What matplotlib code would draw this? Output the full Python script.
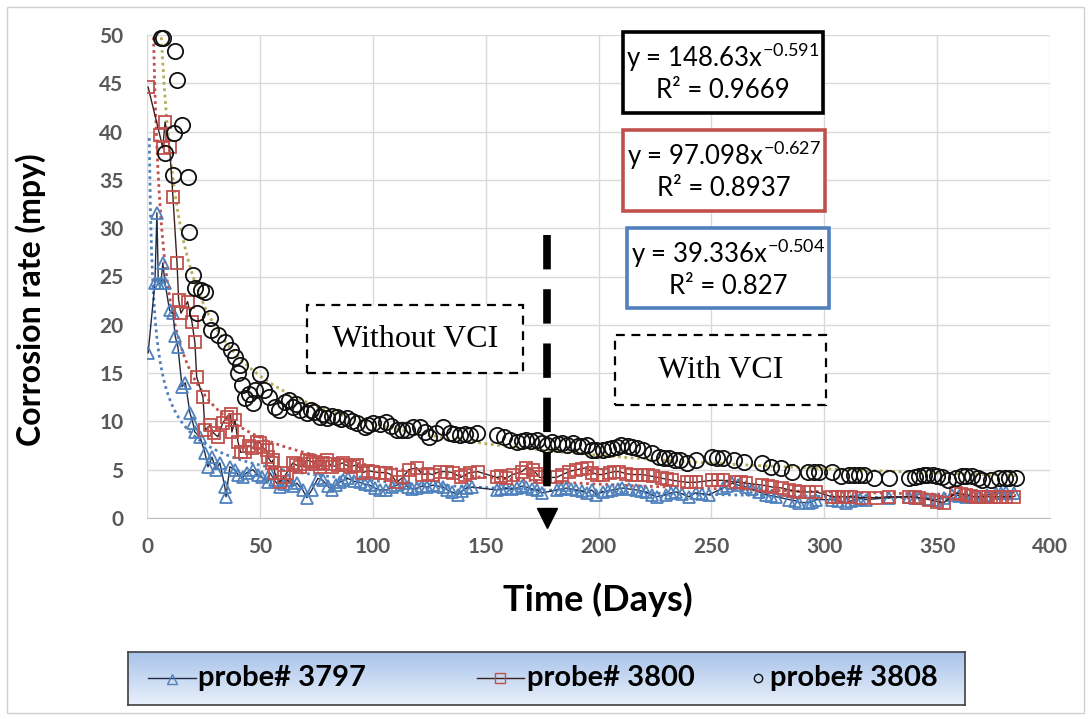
import numpy as np
import matplotlib
matplotlib.use("Agg")
import matplotlib.pyplot as plt
from matplotlib.patches import Rectangle
from matplotlib.lines import Line2D
from matplotlib.colors import LinearSegmentedColormap

plt.rcParams['font.family'] = ['Lato', 'DejaVu Sans']
plt.rcParams['mathtext.fontset'] = 'custom'
plt.rcParams['mathtext.rm'] = 'Lato'
plt.rcParams['mathtext.it'] = 'Lato'

# ---------------- data ----------------
p3797_day = [0.5, 3.5, 4.4, 5.0, 6.2, 7, 8, 10, 11.5, 12.5, 13.7, 15.5, 17, 19, 20.4, 21.2, 23.5, 25.7, 27, 28.8,
             30.5, 32.3, 34.5, 35, 36.7, 39, 40.5, 42.5, 44.2, 47, 49, 51, 53.5, 54.4, 56.5, 58.8, 60.5, 62.4, 64.5,
             66.4, 69, 70.8, 73, 75.7, 77.9, 80, 81.9, 83.5, 85.4, 87, 89, 91.5, 94.2, 96.5, 98.7, 101, 103, 106,
             108.5, 110.6, 114, 115.5, 117.5, 119.5, 122, 124, 126.5, 129, 131, 133, 135, 137.6, 139.5, 141.6, 144,
             155, 157, 159, 161.5, 163.7, 166, 168, 170.5, 172.6, 175, 181.4, 183.5, 185.8, 188, 190, 192.5, 194.7,
             197, 199, 201.8, 204, 206, 208.5, 210.6, 213.5, 216.8, 219, 221, 223.5, 225.7, 230, 232, 234.5, 237,
             240, 243, 246, 249, 255, 257, 259.3, 262, 265.5, 268, 271, 274.3, 276.5, 278.8, 284.5, 287, 289,
             293.4, 294.7, 296.5, 303.5, 306, 309.7, 312, 314, 316, 318.6, 328.8, 337.6, 340, 342, 346, 349.6,
             353, 356.6, 359.5, 362.8, 366, 368.6, 372, 376, 378.5, 380.5, 384]
p3797_val = [17.1, 24.3, 31.6, 24.3, 24.3, 26.4, 24.3, 21.5, 21.2, 18.8, 17.7, 13.6, 14.0, 10.9, 9.8, 8.9, 8.4, 6.7, 5.3, 6.3,
             5.0, 5.7, 3.2, 2.2, 5.3, 5.0, 4.4, 4.2, 4.7, 5.0, 4.4, 4.2, 3.7, 4.7, 3.9, 3.2, 3.5, 3.9, 3.3,
             3.6, 2.9, 2.1, 2.9, 4.1, 3.9, 3.3, 2.9, 3.4, 3.7, 3.9, 4.1, 3.8, 3.7, 3.5, 3.4, 3.1, 2.9, 2.9,
             3.2, 3.4, 3.6, 3.2, 3.0, 3.1, 3.3, 3.2, 3.4, 3.3, 3.2, 2.9, 2.7, 2.4, 2.8, 3.1, 3.2,
             2.9, 3.0, 3.1, 3.0, 3.1, 3.3, 3.2, 3.0, 2.9, 2.6, 2.9, 3.0, 3.1, 3.0, 2.9, 2.8, 2.6,
             2.9, 2.4, 2.7, 2.8, 2.9, 3.0, 3.1, 3.0, 2.9, 2.8, 2.7, 2.4, 2.2, 2.4, 2.6, 2.7, 2.5,
             2.2, 2.6, 2.5, 2.4, 3.1, 3.3, 3.6, 3.4, 3.2, 3.0, 2.7, 2.4, 2.3, 2.2, 1.9, 1.8, 1.6,
             1.6, 1.7, 1.9, 1.9, 1.8, 1.6, 1.8, 1.9, 2.0, 1.9, 2.1, 2.2, 2.1, 2.1, 2.0, 1.9,
             2.1, 2.4, 2.3, 2.2, 2.2, 2.2, 2.4, 2.6, 2.6, 2.7, 2.6]

p3800_day = [0.5, 5.7, 7, 8, 10, 11.5, 13.3, 14, 15, 18, 19.9, 21.2, 22, 24.8, 25.7, 27.9, 29.5, 31.4, 33.5, 35.4,
             37, 37.6, 39, 40.3, 41.5, 43.4, 45, 46.5, 48.7, 50, 51.3, 53, 53.5, 55.3, 55.8, 56.6, 58.8, 60.5, 62,
             64.6, 66, 67.7, 69.5, 70.8, 72, 73.5, 75, 76.5, 78, 79.6, 81, 82, 84.5, 86.7, 88, 89.8, 91.5, 93,
             95.6, 98, 100, 103, 106, 108, 110.6, 113.3, 116, 119.5, 122, 124.5, 126.5, 129.6, 132.7, 135.4, 139,
             141, 143, 146.5, 154.9, 157, 159, 162, 166, 168, 170.8, 172.5, 174, 181.4, 184, 187, 190, 192.5,
             194.7, 197.3, 199.5, 201.8, 205, 207, 209.3, 212, 215, 217, 219.5, 222, 224, 228.3, 230.5, 232.7,
             239, 241, 243, 250.4, 253, 255, 261, 263, 265.5, 272.6, 275, 277, 281.4, 284.5, 287, 289, 293.4,
             296.5, 303.5, 306, 308, 310, 312, 316.8, 323, 328.8, 337.6, 340, 342, 346.5, 350, 353, 358.4, 360.5,
             362.8, 365, 367, 369.5, 371.7, 374, 376, 378, 380.5, 384]
p3800_val = [44.6, 39.6, 38.3, 41.0, 38.4, 33.2, 26.4, 22.6, 21.2, 22.4, 20.3, 18.2, 14.6, 12.5, 9.1, 9.6, 8.8, 8.4, 9.8, 10.5,
             10.8, 8.9, 10.1, 7.9, 6.8, 6.8, 7.5, 7.2, 7.9, 7.8, 7.3, 7.0, 6.3, 5.7, 6.0, 4.7, 3.7, 4.2, 4.7,
             5.7, 5.5, 5.3, 5.6, 6.0, 5.9, 5.8, 5.6, 5.3, 5.7, 6.0, 5.6, 5.3, 5.5, 5.7, 5.5, 5.3, 5.4, 5.5,
             4.7, 4.9, 4.8, 4.7, 4.7, 4.5, 3.7, 4.2, 5.0, 5.2, 4.5, 4.6, 4.5, 4.8, 4.8, 4.7, 4.2,
             4.5, 4.7, 4.8, 4.2, 4.3, 4.1, 4.5, 4.8, 5.2, 5.0, 4.6, 4.2, 4.2, 4.5, 4.8, 5.0, 5.1,
             5.2, 4.7, 4.5, 4.5, 4.7, 4.8, 4.8, 4.6, 4.5, 4.5, 4.5, 4.4, 4.3, 4.1, 4.0, 3.9,
             3.7, 3.7, 3.7, 3.9, 3.9, 3.9, 3.7, 3.7, 3.6, 3.4, 3.3, 3.2, 3.1, 2.9, 2.8, 2.7, 2.7,
             2.7, 2.2, 2.2, 2.2, 2.2, 2.2, 2.1, 2.1, 2.2, 2.2, 2.2, 2.1, 1.9, 1.7, 1.6, 2.6, 2.5,
             2.4, 2.3, 2.2, 2.2, 2.2, 2.2, 2.2, 2.2, 2.2, 2.2]

p3808_day = [6, 7, 8, 11.5, 12, 12.5, 13.5, 15.6, 18, 18.7, 20.5, 21.4, 22, 24, 25.8, 28, 28.5, 31.6, 34.7, 37,
             39.2, 40.5, 41.4, 42.3, 43.6, 45, 46.8, 48, 50, 52, 54, 56.6, 58.5, 61, 63, 64.6, 66, 67.7, 70.8,
             72.5, 74, 76.5, 78, 79.6, 82, 84, 86, 88.5, 91, 93, 96.5, 98, 100, 103, 106, 108, 110.6, 113, 115,
             117.7, 121, 123, 125, 128, 131, 134, 136, 138.5, 141, 143, 146, 155, 158, 160.6, 163.7, 166, 168,
             170, 172.6, 175, 177, 179.6, 182, 184, 186, 188.5, 191, 192.5, 194.7, 197, 199, 201.8, 204, 206,
             208, 210, 213, 215, 217, 219.5, 223.5, 227, 229, 231.4, 234, 236, 239.4, 243, 250.4, 252.5, 255,
             260, 264.6, 272.6, 276.5, 281, 285.8, 293, 295.5, 297.8, 303.5, 307.5, 311, 313, 315.5, 317.7, 322,
             328.8, 337.6, 340, 342, 344, 345.6, 348, 350, 352, 355, 358.4, 361, 363, 365.5, 368, 370, 374,
             377.5, 380, 382, 385]
p3808_val = [49.7, 49.7, 37.8, 35.5, 39.9, 48.3, 45.3, 40.7, 35.3, 29.6, 25.2, 23.8, 21.2, 23.6, 23.4, 20.7, 19.5, 18.9, 18.2, 17.4,
             16.7, 15.0, 15.8, 13.8, 12.4, 12.8, 11.9, 13.3, 14.9, 13.2, 12.5, 11.5, 11.2, 12.0, 12.2, 11.5, 11.8, 11.2, 10.9,
             11.2, 11.0, 10.5, 10.8, 10.4, 10.6, 10.5, 10.2, 10.4, 10.0, 9.8, 9.4, 9.6, 9.8, 9.7, 9.9, 9.5, 9.1, 9.1, 9.1,
             9.4, 9.4, 8.9, 8.4, 8.8, 9.4, 8.8, 8.7, 8.6, 8.7, 8.6, 8.8, 8.6, 8.4, 8.1, 7.9, 8.0, 8.1,
             8.0, 8.1, 7.8, 7.6, 7.9, 7.7, 7.8, 7.6, 7.8, 7.5, 7.5, 7.6, 7.0, 7.0, 7.0, 7.1, 7.2,
             7.4, 7.6, 7.5, 7.4, 7.2, 7.0, 6.7, 6.3, 6.2, 6.2, 6.0, 6.0, 5.7, 6.0, 6.3, 6.2, 6.2,
             6.0, 5.8, 5.7, 5.3, 5.2, 4.8, 4.8, 4.8, 4.8, 4.8, 4.3, 4.5, 4.5, 4.5, 4.5, 4.1,
             4.1, 4.1, 4.2, 4.3, 4.4, 4.5, 4.4, 4.3, 4.2, 3.9, 4.1, 4.3, 4.3, 4.3, 4.1, 3.9, 3.9,
             4.1, 4.1, 4.1, 4.1]

# power-law trendlines shown on the chart: y = a * x^b
series_labels = ["probe# 3797", "probe# 3800", "probe# 3808"]
trend_a = [148.63, 97.098, 39.336]
trend_b = [-0.591, -0.627, -0.504]
trend_r2 = ["0.9669", "0.8937", "0.827"]

x_ticks = [0, 50, 100, 150, 200, 250, 300, 350, 400]
y_ticks = [0, 5, 10, 15, 20, 25, 30, 35, 40, 45, 50]
vci_day = 177

# ---------------- figure ----------------
W, H = 1090, 719
fig = plt.figure(figsize=(W / 100, H / 100), dpi=100)
fig.patch.set_facecolor('white')

def fx(px):
    return px / W

def fy(py):
    return 1 - py / H

# outer frame
fig.add_artist(Rectangle((fx(7), fy(713)), fx(1084) - fx(7), fy(7) - fy(713), transform=fig.transFigure,
                         fill=False, edgecolor='#d0d0d0', linewidth=1))

ax = fig.add_axes([fx(147), fy(518), fx(1050) - fx(147), fy(35) - fy(518)])
ax.set_xlim(0, 400)
ax.set_ylim(0, 50)
ax.set_xticks(x_ticks)
ax.set_yticks(y_ticks)
ax.grid(True, color='#d9d9d9', linewidth=1)
ax.set_axisbelow(True)
for s in ['top', 'right', 'left']:
    ax.spines[s].set_visible(False)
ax.spines['bottom'].set_color('#bfbfbf')
ax.tick_params(length=0, labelsize=15, labelcolor='#595959')
ax.tick_params(axis='x', pad=14)
ax.tick_params(axis='y', pad=17)
for lab in ax.get_xticklabels() + ax.get_yticklabels():
    lab.set_fontweight('bold')

# trendlines
xt = np.linspace(1.0, 385, 800)
trend_colors = ['#b5ad5a', '#c0504d', '#4f81bd']
for a, b, c in zip(trend_a, trend_b, trend_colors):
    ax.plot(xt, a * xt ** b, linestyle=(0, (1, 1.3)), color=c, linewidth=2, zorder=2)

# series
ax.plot(p3797_day, p3797_val, color='#1f2a44', linewidth=1, marker='^', markersize=9,
        markerfacecolor='none', markeredgecolor='#4f81bd', markeredgewidth=1.3, zorder=3)
ax.plot(p3800_day, p3800_val, color='#3a1f1f', linewidth=1, marker='s', markersize=9,
        markerfacecolor='none', markeredgecolor='#c0504d', markeredgewidth=1.3, zorder=4)
ax.plot(p3808_day, p3808_val, linestyle='none', marker='o', markersize=11,
        markerfacecolor='none', markeredgecolor='#111111', markeredgewidth=1.3, zorder=5, clip_on=False)

# VCI dashed line and arrow
ax.plot([vci_day, vci_day], [29.3, 2.3], color='black', linewidth=5.5, linestyle=(0, (4.5, 2.6)),
        solid_capstyle='butt', dash_capstyle='butt', zorder=6)
ax.plot([vci_day], [-0.05], marker='v', markersize=15, color='black', clip_on=False, zorder=7)

fig.text(fx(598), fy(600), 'Time (Days)', fontsize=26, fontweight='bold', ha='center', va='center')
fig.text(fx(31), fy(300), 'Corrosion rate (mpy)', fontsize=23, fontweight='bold', ha='center', va='center',
         rotation=90)

# Without / With VCI boxes
def dashed_box(x0, y0, x1, y1, text):
    fig.add_artist(Rectangle((fx(x0), fy(y1)), fx(x1) - fx(x0), fy(y0) - fy(y1), transform=fig.transFigure,
                             fill=True, facecolor='white', edgecolor='black', linewidth=1.6,
                             linestyle=(0, (4, 3)), zorder=8))
    fig.text(fx((x0 + x1) / 2), fy((y0 + y1) / 2), text, ha='center', va='center', fontsize=23,
             family=['Liberation Serif', 'DejaVu Serif'], zorder=9)

dashed_box(307, 305, 523, 373, 'Without VCI')
dashed_box(615, 335, 826, 405, 'With VCI')

# equation boxes
eq_boxes = [(623, 32, 823, 113), (623, 130, 825, 211), (627, 228, 829, 308)]
eq_edge = ['#000000', '#c0504d', '#4f81bd']
for (x0, y0, x1, y1), a, b, r2, ec in zip(eq_boxes, trend_a, trend_b, trend_r2, eq_edge):
    fig.add_artist(Rectangle((fx(x0), fy(y1)), fx(x1) - fx(x0), fy(y0) - fy(y1), transform=fig.transFigure,
                             facecolor='white', edgecolor=ec, linewidth=2.6, zorder=8))
    cx = fx((x0 + x1) / 2)
    fig.text(cx, fy(y0 + 26), 'y = %s$x^{%s}$' % (('%g' % a), ('%.3f' % b)),
             ha='center', va='center', fontsize=18.5, zorder=9)
    fig.text(cx, fy(y0 + 59), 'R\u00b2 = ' + r2, ha='center', va='center', fontsize=18.5, zorder=9)

# legend with gradient background (drawn in pixel coordinates of its own box)
lx0, ly0, lx1, ly1 = 128, 652, 965, 705
lax = fig.add_axes([fx(lx0), fy(ly1), fx(lx1) - fx(lx0), fy(ly0) - fy(ly1)])
grad = np.linspace(0, 1, 100).reshape(-1, 1)
cmap = LinearSegmentedColormap.from_list('lg', ['#a9c3ea', '#e8f0fb'])
lax.imshow(grad, aspect='auto', cmap=cmap, extent=[lx0, lx1, ly1, ly0], origin='upper')
lax.set_xlim(lx0, lx1)
lax.set_ylim(ly1, ly0)
lax.set_xticks([])
lax.set_yticks([])
for s in lax.spines.values():
    s.set_color('#404040')
    s.set_linewidth(1.2)
ly = 678
# entry 1
lax.plot([148, 196], [ly, ly], color='#1f2a44', linewidth=1)
lax.plot([172], [ly + 1], marker='^', markersize=7, markerfacecolor='none', markeredgecolor='#4f81bd')
lax.text(198, ly, series_labels[0], fontsize=21, fontweight='bold', va='center', ha='left')
# entry 2
lax.plot([477, 524], [ly, ly], color='#3a1f1f', linewidth=1)
lax.plot([500], [ly], marker='s', markersize=7, markerfacecolor='none', markeredgecolor='#c0504d')
lax.text(527, ly, series_labels[1], fontsize=21, fontweight='bold', va='center', ha='left')
# entry 3
lax.plot([758], [ly], marker='o', markersize=6, markerfacecolor='none', markeredgecolor='#111111')
lax.text(770, ly, series_labels[2], fontsize=21, fontweight='bold', va='center', ha='left')

fig.savefig('out.png', dpi=100)
